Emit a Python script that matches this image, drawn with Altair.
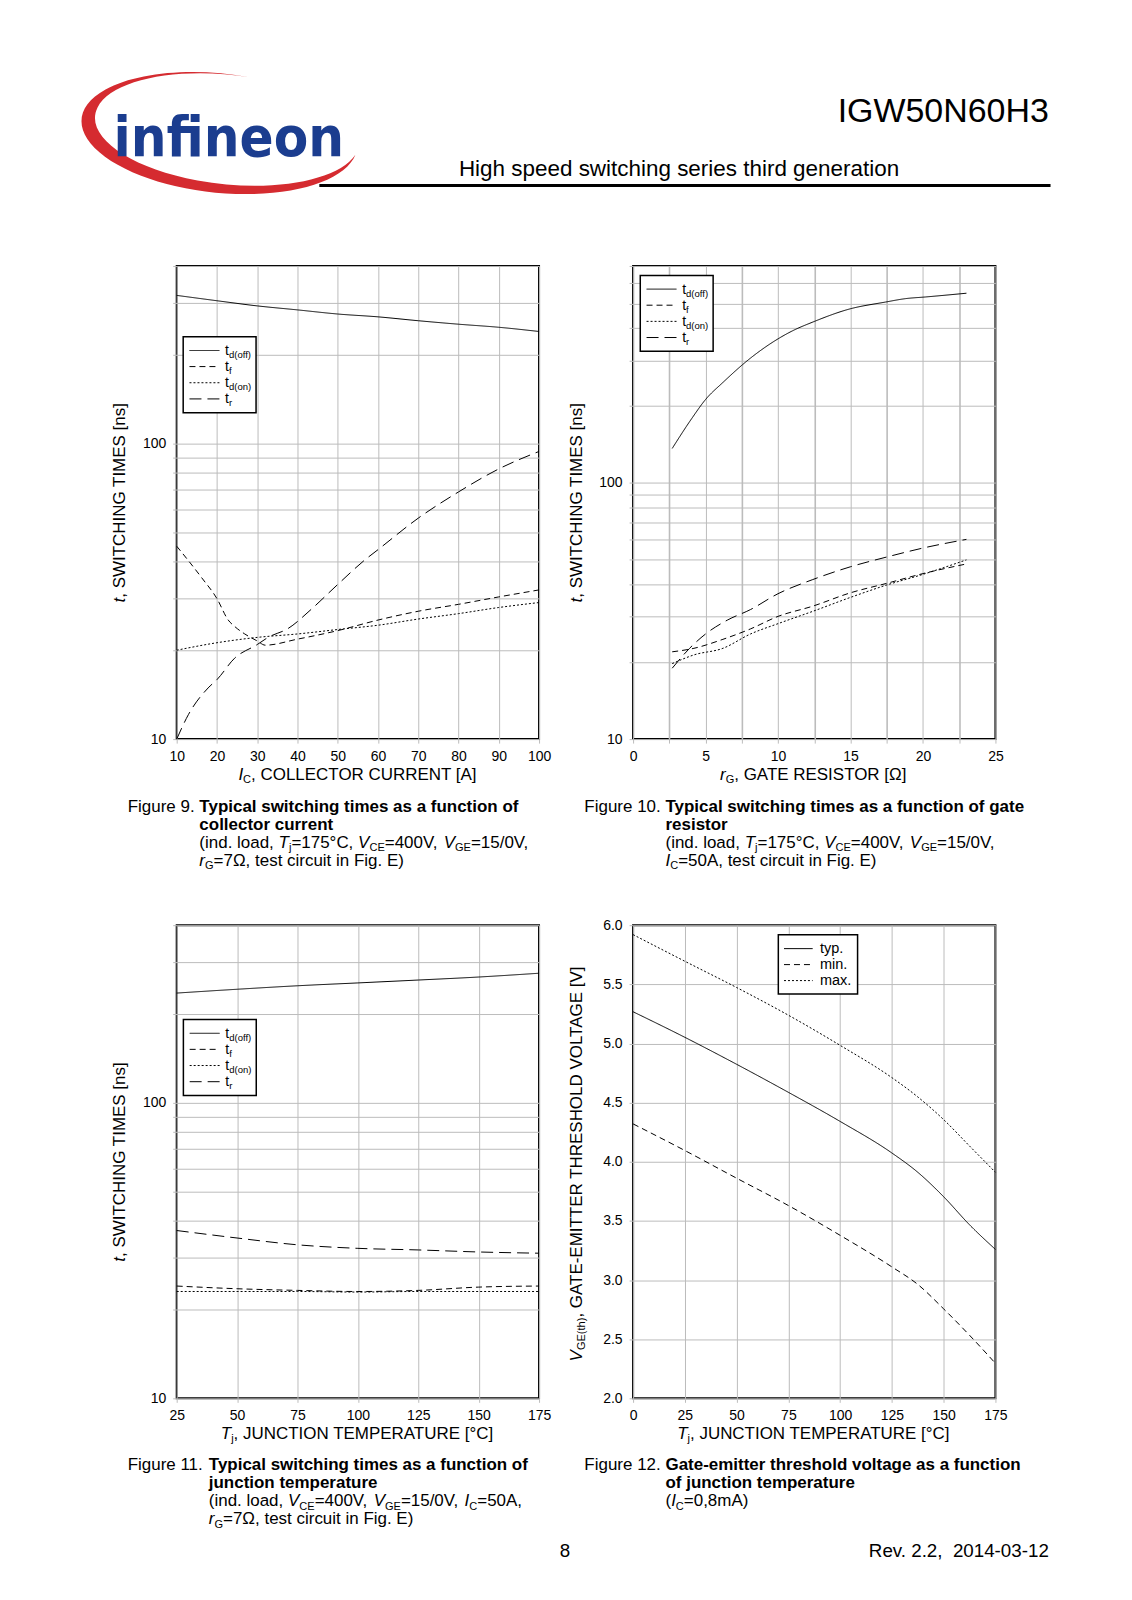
import math
import altair as alt
import pandas as pd

# ---------------- data ----------------
SW_SERIES = ["td(off)", "tf", "td(on)", "tr"]
SW_SUBS = ["d(off)", "f", "d(on)", "r"]

# Figure 9: switching times vs collector current
f9_ic = [10, 20, 30, 40, 50, 60, 70, 80, 90, 100]
f9_tdoff = [318, 305, 293, 284, 275, 269, 261, 254, 248, 240]
f9_tdon = [20.0, 21.2, 22.1, 22.7, 23.5, 24.3, 25.5, 26.6, 27.9, 29.0]
f9_tf_ic = [10, 16.2, 20, 22.8, 24.5, 26.9, 30, 32, 40, 50, 60, 70, 80, 90, 100]
f9_tf = [45.0, 35.2, 29.9, 25.3, 24.0, 22.7, 21.5, 20.8, 21.8, 23.3, 25.3, 27.1, 28.6, 30.3, 32.0]
f9_tr_ic = [10, 12.9, 17.8, 20, 24.4, 30, 32.7, 37.7, 43.4, 50, 56.7, 60, 70, 80, 90, 100]
f9_tr = [10.0, 12.1, 14.9, 15.9, 18.8, 20.9, 22.1, 23.7, 27.5, 33.4, 40.4, 43.8, 56.0, 68.7, 82.2, 94.2]

# Figure 10: switching times vs gate resistor
f10_rg_off = [2.7, 4.05, 5.0, 6.2, 8.1, 11.0, 12.4, 14.9, 17.4, 18.8, 20.2, 23.0]
f10_tdoff = [136, 178, 211, 246, 306, 391, 423, 475, 506, 522, 530, 548]
f10_rg = [2.7, 4.2, 6.2, 8.1, 10.0, 12.4, 15.0, 17.5, 20.0, 23.0]
f10_tf = [21.9, 22.6, 24.5, 26.9, 30.1, 33.0, 37.2, 40.5, 44.2, 48.2]
f10_tdon = [19.7, 21.3, 22.6, 25.7, 28.2, 31.5, 35.7, 39.9, 43.9, 50.0]
f10_rg_tr = [2.7, 3.9, 5.0, 6.5, 8.1, 10.0, 12.4, 15.0, 17.5, 20.0, 23.0]
f10_tr = [18.9, 22.6, 25.7, 29.1, 32.0, 36.9, 41.9, 47.0, 51.3, 55.6, 60.1]

# Figure 11: switching times vs junction temperature
f11_tj = [25, 50, 75, 100, 125, 150, 175]
f11_tdoff = [235.6, 242.7, 249.4, 255.0, 260.8, 267.0, 275.0]
f11_tr = [37.0, 34.9, 33.1, 32.2, 31.8, 31.3, 31.0]
f11_tf = [24.0, 23.5, 23.2, 23.0, 23.2, 23.8, 24.0]
f11_tdon = [23.0, 23.0, 23.0, 22.9, 23.0, 23.0, 23.0]

# Figure 12: gate-emitter threshold voltage vs junction temperature
VTH_SERIES = ["typ.", "min.", "max."]
f12_tj = [0, 25, 50, 75, 100, 125, 137.5, 150, 162.5, 175]
f12_typ = [5.268, 5.052, 4.824, 4.587, 4.341, 4.074, 3.911, 3.704, 3.467, 3.259]
f12_min = [4.32, 4.095, 3.861, 3.630, 3.378, 3.111, 2.963, 2.756, 2.533, 2.296]
f12_max = [5.92, 5.695, 5.473, 5.239, 4.984, 4.711, 4.548, 4.356, 4.133, 3.911]

# axis ticks
f9_xticks = [10, 20, 30, 40, 50, 60, 70, 80, 90, 100]
sw_yticks_400 = [10, 20, 30, 40, 50, 60, 70, 80, 90, 100, 200, 300, 400]
sw_yticks_700 = [10, 20, 30, 40, 50, 60, 70, 80, 90, 100, 200, 300, 400, 500, 600, 700]
f10_xticks = [0, 2.5, 5, 7.5, 10, 12.5, 15, 17.5, 20, 22.5, 25]
f11_xticks = [25, 50, 75, 100, 125, 150, 175]
f12_xticks = [0, 25, 50, 75, 100, 125, 150, 175]
f12_yticks = [2.0, 2.5, 3.0, 3.5, 4.0, 4.5, 5.0, 5.5, 6.0]

# ---------------- styles / layout ----------------
FONT = "Liberation Sans, Arial, Helvetica, sans-serif"
ONE = pd.DataFrame({"k": [0]})
W, H = 363, 474
SPX, SPY = 94.2, 186.4
O9 = (175.6, 263.3)  # page position of figure 9 plot area
SW_DASHES = [[1, 0], [6, 4], [2, 2], [12, 6]]
VTH_DASHES = [[1, 0], [6, 4], [2, 2]]
GRID = "#bcbcbc"
RED = "#d52b30"
BLUE = "#1b3d8f"

REG_W, BOLD_W = {}, {}
for chars, w in [("ijl", 222), (" !,./:;I[]ft", 278), ("()-r", 333), ("°", 400),
                 ("cksvxyzJ", 500), ("abdeghnopqu0123456789L", 556), ("=+", 584),
                 ("FTZ", 611), ("ABEKPSVXY", 667), ("CDHNRUw", 722), ("Ω", 768),
                 ("GOQ", 778), ("Mm", 833), ("W", 944)]:
    for c in chars:
        REG_W[c] = w
for chars, w in [(" !,./:;I[]ijl", 278), ("()-ft", 333), ("r", 389), ("z", 500),
                 ("acesvxyk0123456789J", 556), ("FTLZbdghnopqu", 611), ("EPSVXY", 667),
                 ("ABCDHKNRUw", 722), ("GOQ", 778), ("M", 833), ("m", 889), ("W", 944)]:
    for c in chars:
        BOLD_W[c] = w


def tw(s, size, bold=False):
    tbl = BOLD_W if bold else REG_W
    return sum(tbl.get(c, 556) for c in s) * size / 1000.0


def txt(x, y, s, size, weight="normal", style="normal", align="left", angle=0,
        color="black", font=FONT):
    return alt.Chart(ONE).mark_text(
        text=s, align=align, baseline="alphabetic", fontSize=size, fontWeight=weight,
        fontStyle=style, angle=angle, color=color, font=font,
    ).encode(x=alt.value(x), y=alt.value(y))


SUB = 0.65


def rich(x, y, segs, size, anchor="left", vertical=False):
    items = []
    for s, kind in segs:
        fs = size * SUB if kind == "sub" else size
        items.append((s, kind, fs, tw(s, fs, bold=(kind == "b"))))
    total = sum(i[3] for i in items)
    pos = {"center": -total / 2, "right": -total}.get(anchor, 0)
    layers = []
    for s, kind, fs, w in items:
        off = size * 0.2 if kind == "sub" else 0
        weight = "bold" if kind == "b" else "normal"
        style = "italic" if kind == "i" else "normal"
        if vertical:
            layers.append(txt(x + off, y - pos, s, fs, weight, style, angle=270))
        else:
            layers.append(txt(x + pos, y + off, s, fs, weight, style))
        pos += w
    return layers


def caption(x0, y0, first, bold1, lines, size=17, lh=18):
    layers = rich(x0, y0, [(first, "n"), (bold1, "b")], size)
    ind = x0 + tw(first, size)
    for i, segs in enumerate(lines):
        layers += rich(ind, y0 + lh * (i + 1), segs, size)
    return layers


def legend(bx, by, bw, bh, lx0, lx1, tx, rows, dashes, mains, subs, size=14):
    layers = [alt.Chart(ONE).mark_rect(fill="white", stroke="black", strokeWidth=1.5).encode(
        x=alt.value(bx), x2=alt.value(bx + bw), y=alt.value(by), y2=alt.value(by + bh))]
    for dash, main, sub, ry in zip(dashes, mains, subs, rows):
        layers.append(alt.Chart(ONE).mark_rule(color="black", strokeWidth=1, strokeDash=dash).encode(
            x=alt.value(lx0), x2=alt.value(lx1), y=alt.value(ry)))
        layers.append(txt(tx, ry + 4.5, main, size))
        if sub:
            layers.append(txt(tx + tw(main, size), ry + 7.5, sub, size * 0.68))
    return layers


def long_df(xs_list, ys_list, names):
    rows = []
    for xs, ys, n in zip(xs_list, ys_list, names):
        rows += [{"x": a, "y": b, "s": n} for a, b in zip(xs, ys)]
    return pd.DataFrame(rows)


def panel(df, xdom, xticks, xlabel_expr, ydom, ylog, yticks, ylabel_expr, yfmt,
          names, dashes, extra, xgrid_width=None):
    xa = dict(values=xticks, title=None, grid=True)
    if xlabel_expr:
        xa["labelExpr"] = xlabel_expr
    if xgrid_width:
        xa["gridWidth"] = xgrid_width
    ya = dict(values=yticks, title=None, grid=True)
    if ylabel_expr:
        ya["labelExpr"] = ylabel_expr
    if yfmt:
        ya["format"] = yfmt
    lines = alt.Chart(df).mark_line(color="black", strokeWidth=1, interpolate="monotone").encode(
        x=alt.X("x:Q", scale=alt.Scale(domain=xdom, nice=False, zero=False), axis=alt.Axis(**xa)),
        y=alt.Y("y:Q", scale=alt.Scale(type="log" if ylog else "linear", domain=ydom,
                                        nice=False, zero=False), axis=alt.Axis(**ya)),
        strokeDash=alt.StrokeDash("s:N", scale=alt.Scale(domain=names, range=dashes), legend=None),
    )
    return alt.layer(lines, *extra).properties(width=W, height=H)


LOG_LBL = "(datum.value == 10 || datum.value == 100) ? '' + datum.value : ''"
SW_ROWS = [13.7, 29.8, 46.0, 62.2]


def sw_legend(bx, by):
    return legend(bx, by, 73, 76, bx + 6.3, bx + 36.3, bx + 42, [by + r for r in SW_ROWS],
                  SW_DASHES, ["t"] * 4, SW_SUBS)


def titles(xsegs, ysegs):
    return rich(W / 2, H + 40.5, xsegs, 17, anchor="center") + \
        rich(-51.5, H / 2, ysegs, 17, anchor="center", vertical=True)


T_SEGS = [("t", "i"), (", SWITCHING TIMES [ns]", "n")]
TJ_SEGS = [("T", "i"), ("j", "sub"), (", JUNCTION TEMPERATURE [°C]", "n")]
L3_COND = [("(ind. load, ", "n"), ("T", "i"), ("j", "sub"), ("=175°C, ", "n"), ("V", "i"),
           ("CE", "sub"), ("=400V, ", "n"), ("V", "i"), ("GE", "sub"), ("=15/0V,", "n")]
RG7 = [("r", "i"), ("G", "sub"), ("=7Ω, test circuit in Fig. E)", "n")]

# ---------- page-level items, attached to figure 9 (local = page - O9) ----------
def P(x, y):
    return (x - O9[0], y - O9[1])


def swoosh_path():
    rot = 6.0
    th = math.radians(rot)

    def pt(t, a, b):
        t = math.radians(t)
        x0, y0 = a * math.cos(t), b * math.sin(t)
        return (x0 * math.cos(th) - y0 * math.sin(th), x0 * math.sin(th) + y0 * math.cos(th))

    p1 = pt(-80, 1.0, 0.43)
    p2 = pt(7, 1.0, 0.43)
    f = lambda p: f"{p[0]:.4f} {p[1]:.4f}"
    return (f"M {f(p1)} A 1 0.43 {rot} 1 0 {f(p2)} "
            f"A 0.96 0.395 {rot} 1 1 {f(p1)} Z")


page_layers = []
fx, fy = P(8, 8)
page_layers.append(alt.Chart(ONE).mark_rect(opacity=0).encode(
    x=alt.value(fx), x2=alt.value(fx + 1115), y=alt.value(fy), y2=alt.value(fy + 1583)))
sx, sy = P(218.4, 130.2)
page_layers.append(alt.Chart(ONE).mark_point(
    shape=swoosh_path(), filled=True, color=RED, opacity=1, size=277.6 ** 2, strokeWidth=0
).encode(x=alt.value(sx), y=alt.value(sy)))
lx, ly = P(112.3, 153.1)
page_layers.append(txt(lx, ly, "infineon", 56, weight="bold", color=BLUE,
                       font="DejaVu Sans Condensed, DejaVu Sans, sans-serif"))
hx, hy = P(1049.3, 119.4)
page_layers.append(txt(hx, hy, "IGW50N60H3", 34, align="right"))
tx_, ty_ = P(458.3, 173.5)
page_layers.append(txt(tx_, ty_, "High speed switching series third generation", 22.5))
r0x, ry_ = P(318.5, 182.7)
r1x, _ = P(1051, 182.7)
page_layers.append(alt.Chart(ONE).mark_rule(color="black", strokeWidth=3).encode(
    x=alt.value(r0x), x2=alt.value(r1x), y=alt.value(ry_)))
px8, py8 = P(564.5, 1557)
page_layers.append(txt(px8, py8, "8", 18.8, align="center"))
prx, pry = P(1049.3, 1557)
page_layers.append(txt(prx, pry, "Rev. 2.2,\u00a0 2014-03-12", 18.8, align="right"))

# ---------------- panels ----------------
df9 = long_df([f9_ic, f9_tf_ic, f9_ic, f9_tr_ic], [f9_tdoff, f9_tf, f9_tdon, f9_tr], SW_SERIES)
cap9 = caption(-49.1, 546.7, "Figure 9. ", "Typical switching times as a function of",
               [[("collector current", "b")], L3_COND, RG7])
p9 = panel(df9, [10, 100], f9_xticks, None, [10, 400], True, sw_yticks_400, LOG_LBL, None,
           SW_SERIES, SW_DASHES,
           page_layers + sw_legend(6.5, 71) +
           titles([("I", "i"), ("C", "sub"), (", COLLECTOR CURRENT [A]", "n")], T_SEGS) + cap9)

df10 = long_df([f10_rg_off, f10_rg, f10_rg, f10_rg_tr], [f10_tdoff, f10_tf, f10_tdon, f10_tr], SW_SERIES)
cap10 = caption(-48.8, 546.7, "Figure 10. ", "Typical switching times as a function of gate",
                [[("resistor", "b")], L3_COND,
                 [("I", "i"), ("C", "sub"), ("=50A, test circuit in Fig. E)", "n")]])
p10 = panel(df10, [0, 25], f10_xticks, "datum.value % 5 == 0 ? '' + datum.value : ''",
            [10, 700], True, sw_yticks_700, LOG_LBL, None, SW_SERIES, SW_DASHES,
            sw_legend(7.2, 9.5) +
            titles([("r", "i"), ("G", "sub"), (", GATE RESISTOR [Ω]", "n")], T_SEGS) + cap10,
            xgrid_width={"condition": {"test": "datum.value % 5 != 0", "value": 1.6}, "value": 1})

df11 = long_df([f11_tj] * 4, [f11_tdoff, f11_tf, f11_tdon, f11_tr], SW_SERIES)
cap11 = caption(-49.1, 546.2, "Figure 11. ", "Typical switching times as a function of",
                [[("junction temperature", "b")],
                 [("(ind. load, ", "n"), ("V", "i"), ("CE", "sub"), ("=400V, ", "n"), ("V", "i"),
                  ("GE", "sub"), ("=15/0V, ", "n"), ("I", "i"), ("C", "sub"), ("=50A,", "n")],
                 RG7])
p11 = panel(df11, [25, 175], f11_xticks, None, [10, 400], True, sw_yticks_400, LOG_LBL, None,
            SW_SERIES, SW_DASHES,
            sw_legend(6.7, 94.6) + titles(TJ_SEGS, T_SEGS) + cap11)

df12 = long_df([f12_tj] * 3, [f12_typ, f12_min, f12_max], VTH_SERIES)
cap12 = caption(-48.8, 546.2, "Figure 12. ", "Gate-emitter threshold voltage as a function",
                [[("of junction temperature", "b")],
                 [("(", "n"), ("I", "i"), ("C", "sub"), ("=0,8mA)", "n")]])
leg12 = legend(145.5, 9.5, 79.4, 59.4, 151.2, 179.9, 187.2, [23.5, 39.5, 55.5],
               VTH_DASHES, VTH_SERIES, [None, None, None], size=14.5)
p12 = panel(df12, [0, 175], f12_xticks, None, [2, 6], False, f12_yticks, None, ".1f",
            VTH_SERIES, VTH_DASHES,
            leg12 + titles(TJ_SEGS, [("V", "i"), ("GE(th)", "sub"),
                                     (", GATE-EMITTER THRESHOLD VOLTAGE [V]", "n")]) + cap12)

chart = alt.concat(
    p9, p10, p11, p12, columns=2,
    spacing={"row": SPY, "column": SPX}, bounds="flush",
).properties(padding=0).configure(font=FONT).configure_view(
    stroke="black", strokeWidth=2
).configure_axis(
    gridColor=GRID, gridWidth=1, tickColor=GRID, tickSize=4, domain=False,
    labelFont=FONT, labelFontSize=14, labelColor="black", labelFlush=False,
    labelOverlap=False, labelBound=False,
).configure_axisX(labelPadding=6).configure_axisY(labelPadding=7)

chart.save("out.html", embed_options={"renderer": "svg", "actions": False})
